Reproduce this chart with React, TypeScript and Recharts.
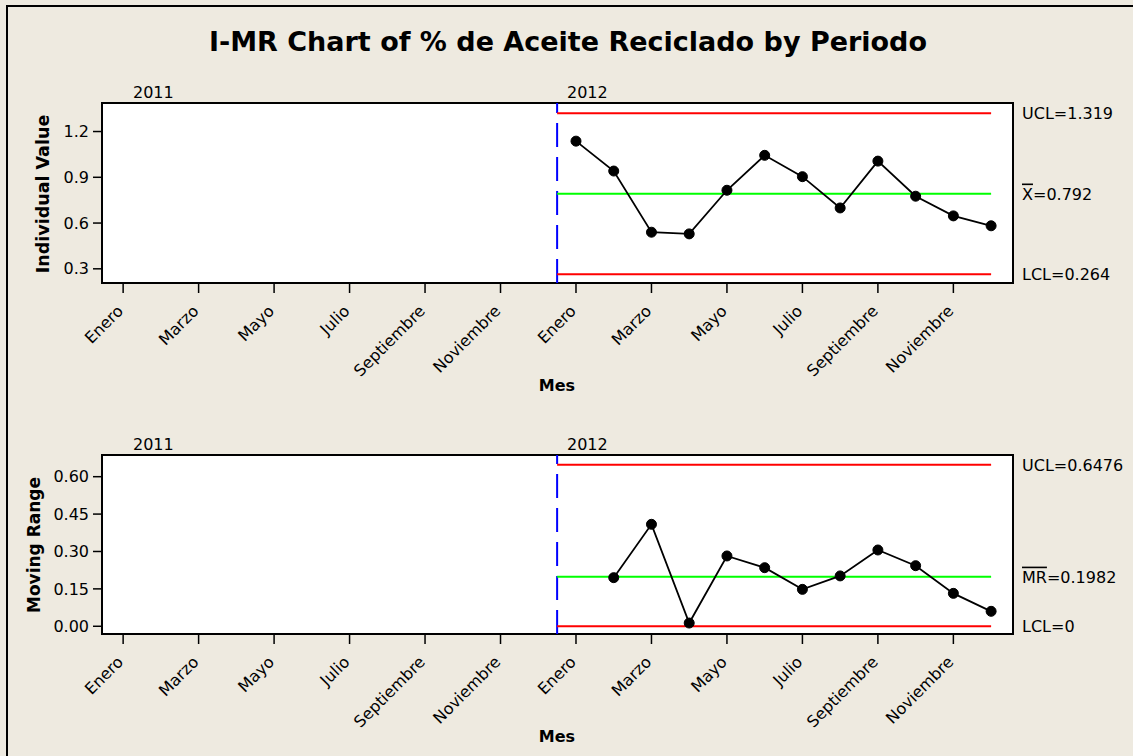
import React from 'react';
import { LineChart, Line, XAxis, YAxis, ReferenceLine, ReferenceArea } from 'recharts';

const FONT = '"DejaVu Sans", Verdana, sans-serif';

const monthNames = ['Enero', 'Febrero', 'Marzo', 'Abril', 'Mayo', 'Junio', 'Julio', 'Agosto', 'Septiembre', 'Octubre', 'Noviembre', 'Diciembre'];
const years = ['2011', '2012'];
const monthTicks = [0, 2, 4, 6, 8, 10, 12, 14, 16, 18, 20, 22];

const individual2012 = [1.137, 0.941, 0.54, 0.529, 0.815, 1.044, 0.904, 0.699, 1.006, 0.776, 0.647, 0.582];
const movingRange2012 = [null, 0.195, 0.409, 0.013, 0.282, 0.235, 0.148, 0.202, 0.306, 0.243, 0.132, 0.06];

const iLimits = [1.319, 0.792, 0.264]; // UCL, X-bar, LCL
const mrLimits = [0.6476, 0.1982, 0]; // UCL, MR-bar, LCL
const iLimitText = ['UCL=1.319', '=0.792', 'LCL=0.264'];
const mrLimitText = ['UCL=0.6476', '=0.1982', 'LCL=0'];

const iTicks = [0.3, 0.6, 0.9, 1.2];
const mrTicks = [0, 0.15, 0.3, 0.45, 0.6];

const rows = years.flatMap((yr, yi) =>
  monthNames.map((m, mi) => ({
    idx: yi * 12 + mi,
    year: yr,
    month: m,
    individual: yi === 1 ? individual2012[mi] : null,
    mr: yi === 1 ? movingRange2012[mi] : null,
  }))
);

const X_DOMAIN: [number, number] = [-0.56, 23.58];
const PHASE_SPLIT = 11.5;
const LAST = 23;

function MonthTick(props: any) {
  const { x, y, payload } = props;
  return (
    <g transform={`translate(${x + 1},${y + 17})`}>
      <text textAnchor="end" transform="rotate(-45)" fontFamily={FONT} fontSize={16} fill="#000">
        {monthNames[payload.value % 12]}
      </text>
    </g>
  );
}

const limitLabel = (text: string, barText?: string) => (props: any) => {
  const vb = props.viewBox;
  if (!vb) return null;
  return (
    <text x={vb.x + vb.width + 9} y={vb.y} dy="0.36em" fontFamily={FONT} fontSize={16} fill="#000">
      {barText ? <tspan style={{ textDecoration: 'overline' }}>{barText}</tspan> : null}
      {text}
    </text>
  );
};

interface PanelProps {
  dataKey: string;
  domain: [number, number];
  ticks: number[];
  digits: number;
  limits: number[];
  limitText: string[];
  barText: string;
  top: number;
  height: number;
  xAxisHeight: number;
}

function Panel({ dataKey, domain, ticks, digits, limits, limitText, barText, top, height, xAxisHeight }: PanelProps) {
  const [ucl, center, lcl] = limits;
  return (
    <div style={{ position: 'absolute', left: 0, top }}>
      <LineChart width={1133} height={height} data={rows} margin={{ top: 103, right: 120, bottom: 0, left: 0 }}>
        <XAxis
          type="number"
          dataKey="idx"
          domain={X_DOMAIN}
          allowDataOverflow
          ticks={monthTicks}
          interval={0}
          axisLine={false}
          tickLine={{ stroke: '#000', strokeWidth: 1.5 }}
          tickSize={10}
          height={xAxisHeight}
          tick={<MonthTick />}
        />
        <YAxis
          type="number"
          domain={domain}
          allowDataOverflow
          ticks={ticks}
          interval={0}
          width={102}
          axisLine={false}
          tickLine={{ stroke: '#000', strokeWidth: 1.5 }}
          tickSize={9}
          tickMargin={4}
          tickFormatter={(v: number) => v.toFixed(digits)}
          tick={{ fontSize: 16, fill: '#000', fontFamily: FONT }}
        />
        <ReferenceArea
          x1={X_DOMAIN[0]}
          x2={X_DOMAIN[1]}
          y1={domain[0]}
          y2={domain[1]}
          fill="#fff"
          fillOpacity={1}
          stroke="#000"
          strokeWidth={2}
        />
        <ReferenceLine x={PHASE_SPLIT} stroke="#0000FF" strokeWidth={2} strokeDasharray="24 10" />
        <ReferenceLine segment={[{ x: PHASE_SPLIT, y: ucl }, { x: LAST, y: ucl }]} stroke="#FF0000" strokeWidth={2} />
        <ReferenceLine segment={[{ x: PHASE_SPLIT, y: center }, { x: LAST, y: center }]} stroke="#00FF00" strokeWidth={2} />
        <ReferenceLine segment={[{ x: PHASE_SPLIT, y: lcl }, { x: LAST, y: lcl }]} stroke="#FF0000" strokeWidth={2} />
        <ReferenceLine y={ucl} stroke="none" label={{ content: limitLabel(limitText[0]) }} />
        <ReferenceLine y={center} stroke="none" label={{ content: limitLabel(limitText[1], barText) }} />
        <ReferenceLine y={lcl} stroke="none" label={{ content: limitLabel(limitText[2]) }} />
        <Line
          dataKey={dataKey}
          stroke="#000"
          strokeWidth={1.8}
          dot={{ r: 5, fill: '#000', stroke: '#000', strokeWidth: 1 }}
          activeDot={false}
          isAnimationActive={false}
        />
      </LineChart>
    </div>
  );
}

export default function App() {
  return (
    <div style={{ position: 'absolute', left: 0, top: 0, width: 1133, height: 756, background: '#EEEAE0', overflow: 'hidden' }}>
      <div style={{ position: 'absolute', left: 6, top: 5, right: -10, bottom: -10, borderLeft: '2px solid #000', borderTop: '2px solid #000' }} />
      <Panel
        dataKey="individual"
        domain={[0.207, 1.387]}
        ticks={iTicks}
        digits={1}
        limits={iLimits}
        limitText={iLimitText}
        barText="X"
        top={0}
        height={400}
        xAxisHeight={117}
      />
      <Panel
        dataKey="mr"
        domain={[-0.031, 0.687]}
        ticks={mrTicks}
        digits={2}
        limits={mrLimits}
        limitText={mrLimitText}
        barText="MR"
        top={352}
        height={404}
        xAxisHeight={122}
      />
      <svg width={1133} height={756} style={{ position: 'absolute', left: 0, top: 0, pointerEvents: 'none' }}>
        <text x={568} y={51} textAnchor="middle" fontFamily={FONT} fontWeight="bold" fontSize={27} fill="#000">
          I-MR Chart of % de Aceite Reciclado by Periodo
        </text>
        <text x={133} y={98} fontFamily={FONT} fontSize={16} fill="#000">{years[0]}</text>
        <text x={567} y={98} fontFamily={FONT} fontSize={16} fill="#000">{years[1]}</text>
        <text x={133} y={450} fontFamily={FONT} fontSize={16} fill="#000">{years[0]}</text>
        <text x={567} y={450} fontFamily={FONT} fontSize={16} fill="#000">{years[1]}</text>
        <text transform="translate(49,194) rotate(-90)" textAnchor="middle" fontFamily={FONT} fontWeight="bold" fontSize={17.5} fill="#000">
          Individual Value
        </text>
        <text transform="translate(40,545) rotate(-90)" textAnchor="middle" fontFamily={FONT} fontWeight="bold" fontSize={17} fill="#000">
          Moving Range
        </text>
        <text x={557} y={391} textAnchor="middle" fontFamily={FONT} fontWeight="bold" fontSize={16} fill="#000">Mes</text>
        <text x={557} y={742} textAnchor="middle" fontFamily={FONT} fontWeight="bold" fontSize={16} fill="#000">Mes</text>
      </svg>
    </div>
  );
}
